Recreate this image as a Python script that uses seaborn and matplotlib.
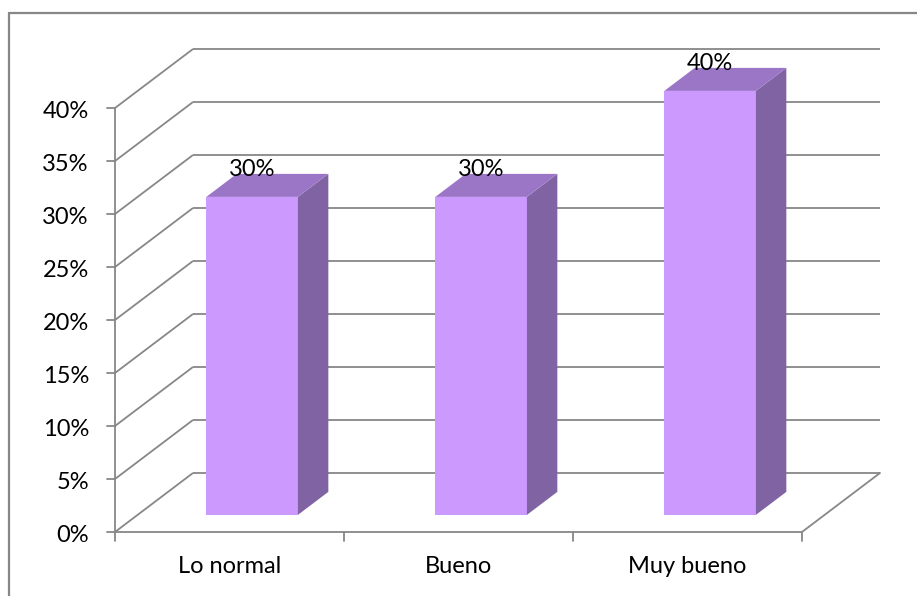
import matplotlib
matplotlib.use("Agg")
import matplotlib.pyplot as plt
from matplotlib.patches import Polygon
from matplotlib.lines import Line2D
import seaborn as sns
import pandas as pd

# Survey answers and their shares (%)
categories = ["Lo normal", "Bueno", "Muy bueno"]
shares = [30, 30, 40]
bar_labels = ["30%", "30%", "40%"]
tick_values = [0, 5, 10, 15, 20, 25, 30, 35, 40]
tick_labels = ["0%", "5%", "10%", "15%", "20%", "25%", "30%", "35%", "40%"]

sns.set_theme(style="white")
plt.rcParams["font.family"] = ["Lato", "DejaVu Sans"]

FRONT = "#CC99FF"
SIDE = "#7F63A2"
TOP = "#9B76C7"
GRID = "#878787"
FS = 17

# oblique projection of the depth axis (category units, percent units)
DX, DY = 0.3406, 5.566
D0, D1 = 0.29, 0.68          # bar depth inside the box
BAR_W = 0.40

fig = plt.figure(figsize=(9.17, 5.96), dpi=100)
ax = fig.add_axes([0, 0, 1, 1])

df = pd.DataFrame({"cat": categories, "share": shares})
sns.barplot(data=df, x="cat", y="share", color=FRONT, width=BAR_W,
            saturation=1, linewidth=0, ax=ax, zorder=3)

# push the front faces back into the box and add side/top faces
for patch, val, lab in zip(ax.patches, shares, bar_labels):
    x_left = patch.get_x() + D0 * DX
    y_base = D0 * DY
    patch.set_x(x_left)
    patch.set_y(y_base)
    patch.set_height(val)
    patch.set_facecolor(FRONT)
    x_right = x_left + BAR_W
    y_top = y_base + val
    ddx, ddy = (D1 - D0) * DX, (D1 - D0) * DY
    ax.add_patch(Polygon([(x_right, y_base), (x_right + ddx, y_base + ddy),
                          (x_right + ddx, y_top + ddy), (x_right, y_top)],
                         closed=True, facecolor=SIDE, edgecolor="none", zorder=3))
    ax.add_patch(Polygon([(x_left, y_top), (x_right, y_top),
                          (x_right + ddx, y_top + ddy), (x_left + ddx, y_top + ddy)],
                         closed=True, facecolor=TOP, edgecolor="none", zorder=3))
    ax.text(x_left + BAR_W / 2, y_top + 2.55, lab, ha="center", va="center",
            fontsize=FS, color="black", zorder=5)

x0, x1 = -0.5, len(categories) - 0.5
lw = 1.3

# walls: left-wall diagonals and back-wall gridlines
for v, tl in zip(tick_values, tick_labels):
    ax.plot([x0, x0 + DX], [v, v + DY], color=GRID, lw=lw, zorder=1,
            solid_capstyle="butt")
    ax.plot([x0 + DX, x1 + DX], [v + DY, v + DY], color=GRID, lw=lw, zorder=1,
            solid_capstyle="butt")
    ax.plot([x0 - 0.035, x0], [v, v], color=GRID, lw=lw, zorder=2)
    ax.text(x0 - 0.114, v - 0.3, tl, ha="right", va="center",
            fontsize=FS, color="black")

# front axis lines and floor
ax.plot([x0, x0], [0, tick_values[-1]], color=GRID, lw=lw, zorder=2)
ax.plot([x0, x1], [0, 0], color=GRID, lw=lw, zorder=2)
ax.plot([x1, x1 + DX], [0, DY], color=GRID, lw=lw, zorder=2)
for k in range(len(categories) + 1):
    ax.plot([x0 + k, x0 + k], [0, -0.85], color=GRID, lw=lw, zorder=2)
for i, c in enumerate(categories):
    ax.text(i, -3.3, c, ha="center", va="center", fontsize=FS, color="black")

ax.set_xlim(-1.0022, 3.0022)
ax.set_ylim(-6.04, 50.19)
ax.axis("off")

# chart frame
fig.add_artist(Line2D([9 / 917, 9 / 917], [0, 1 - 13 / 596], color=GRID, lw=1.6,
                      transform=fig.transFigure))
fig.add_artist(Line2D([9 / 917, 1], [1 - 13 / 596, 1 - 13 / 596], color=GRID, lw=1.6,
                      transform=fig.transFigure))

fig.savefig("out.png", dpi=100)
